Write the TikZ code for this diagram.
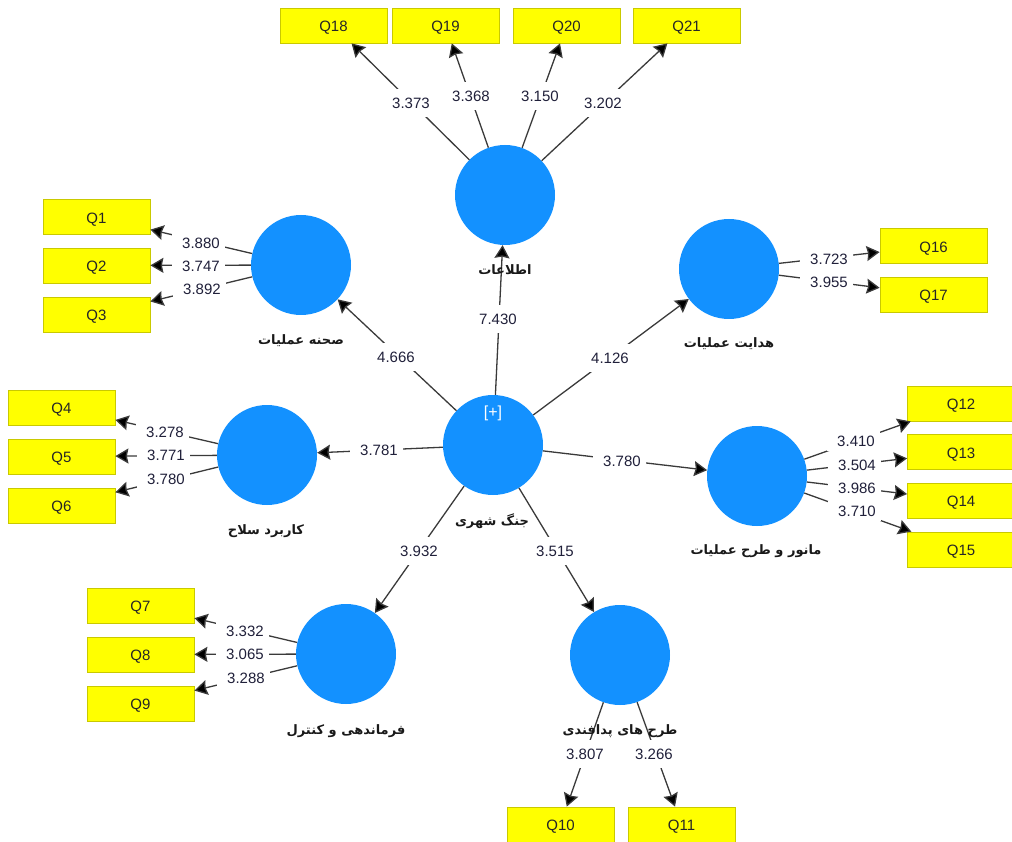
\documentclass[tikz,border=0pt]{standalone}
\usepackage{fontspec}
\setmainfont{Liberation Sans}
\newfontfamily\arabicfont[Script=Arabic]{DejaVu Sans}
\TeXXeTstate=1
\usetikzlibrary{arrows.meta}
\definecolor{lvblue}{HTML}{1391FF}
\definecolor{mvfill}{RGB}{255,255,0}
\definecolor{mvedge}{HTML}{C9C900}
\definecolor{lnk}{HTML}{3A3A3A}
\definecolor{valtxt}{HTML}{20203A}
\tikzset{
 lv/.style={circle,fill=lvblue,minimum size=100pt,inner sep=0pt},
 mv/.style={rectangle,fill=mvfill,draw=mvedge,line width=0.8pt,minimum width=107pt,minimum height=35pt,inner sep=0pt,text height=12.5pt,text depth=0pt,font=\fontsize{15}{15}\selectfont,text=black!85},
 lnkline/.style={draw=lnk,line width=1.3pt,-{Stealth[length=13pt,width=15pt,inset=1.5pt,fill=black]}},
 val/.style={fill=white,inner sep=0pt,minimum width=53pt,minimum height=20pt,xshift=-2.5pt,execute at begin node={\hspace*{5pt}},font=\fontsize{15}{15}\selectfont,text=valtxt},
 valtall/.style={val,minimum height=28pt},
 fa/.style={inner sep=0pt,font=\fontsize{13}{14}\arabicfont\bfseries,text=black!90},
}
\begin{document}
\begin{tikzpicture}[x=1pt,y=-1pt]
\useasboundingbox (0,0) rectangle (1012,842);
% latent variables
\node[lv] (main) at (493,445) {};
\node[lv] (info) at (505,195) {};
\node[lv] (scene) at (301,265) {};
\node[lv] (guide) at (729,269) {};
\node[lv] (weapon) at (267,455) {};
\node[lv] (maneuver) at (757,476) {};
\node[lv] (command) at (346,654) {};
\node[lv] (defense) at (620,655) {};
\node[text=white,inner sep=0pt,font=\fontsize{16}{16}\selectfont] (plus) at (493,413) {[+]};
% indicators
\node[mv] (Q1) at (96.5,217) {Q1};
\node[mv] (Q2) at (96.5,265.5) {Q2};
\node[mv] (Q3) at (96.5,314.5) {Q3};
\node[mv] (Q4) at (61.5,407.5) {Q4};
\node[mv] (Q5) at (61.5,456.5) {Q5};
\node[mv] (Q6) at (61.5,505.5) {Q6};
\node[mv] (Q7) at (140.5,605.5) {Q7};
\node[mv] (Q8) at (140.5,654.5) {Q8};
\node[mv] (Q9) at (140.5,703.5) {Q9};
\node[mv] (Q10) at (560.5,824.5) {Q10};
\node[mv] (Q11) at (681.5,824.5) {Q11};
\node[mv] (Q12) at (961,403.5) {Q12};
\node[mv] (Q13) at (961,452) {Q13};
\node[mv] (Q14) at (961,500.5) {Q14};
\node[mv] (Q15) at (961,549.5) {Q15};
\node[mv] (Q16) at (933.5,246) {Q16};
\node[mv] (Q17) at (933.5,294.5) {Q17};
\node[mv] (Q18) at (333.5,25.5) {Q18};
\node[mv] (Q19) at (445.5,25.5) {Q19};
\node[mv] (Q20) at (566.5,25.5) {Q20};
\node[mv] (Q21) at (686.5,25.5) {Q21};
% connectors
\foreach \a/\b in {main/info,main/scene,main/guide,main/weapon,main/maneuver,main/command,main/defense,
  scene/Q1,scene/Q2,scene/Q3,weapon/Q4,weapon/Q5,weapon/Q6,command/Q7,command/Q8,command/Q9,
  defense/Q10,defense/Q11,maneuver/Q12,maneuver/Q13,maneuver/Q14,maneuver/Q15,guide/Q16,guide/Q17,
  info/Q18,info/Q19,info/Q20,info/Q21}
  {\draw[lnkline] (\a) -- (\b);}
% values
\node[valtall] (v1) at (498,319) {7.430};
\node[valtall] (v2) at (396,357) {4.666};
\node[valtall] (v3) at (610,358) {4.126};
\node[val] (v4) at (379,450) {3.781};
\node[val] (v5) at (622,461) {3.780};
\node[valtall] (v6) at (419,551) {3.932};
\node[valtall] (v7) at (555,551) {3.515};
\node[valtall] (v8) at (411,103) {3.373};
\node[valtall] (v9) at (471,96) {3.368};
\node[valtall] (v10) at (540,96) {3.150};
\node[valtall] (v11) at (603,103) {3.202};
\node[val] (v12) at (201,243) {3.880};
\node[val] (v13) at (201,266) {3.747};
\node[val] (v14) at (202,289) {3.892};
\node[val] (v15) at (829,259) {3.723};
\node[val] (v16) at (829,282) {3.955};
\node[val] (v17) at (165,432) {3.278};
\node[val] (v18) at (166,455) {3.771};
\node[val] (v19) at (166,479) {3.780};
\node[val] (v20) at (856,441) {3.410};
\node[val] (v21) at (857,465) {3.504};
\node[val] (v22) at (857,488) {3.986};
\node[val] (v23) at (857,511) {3.710};
\node[val] (v24) at (245,631) {3.332};
\node[val] (v25) at (245,654) {3.065};
\node[val] (v26) at (246,678) {3.288};
\node[valtall] (v27) at (585,754) {3.807};
\node[valtall] (v28) at (654,754) {3.266};
% names
\node[fa] (t1) at (505,270) {\beginR اطلاعات\endR};
\node[fa] (t2) at (301,341) {\beginR صحنه عملیات\endR};
\node[fa] (t3) at (729,344) {\beginR هدایت عملیات\endR};
\node[fa] (t4) at (266,531) {\beginR کاربرد سلاح\endR};
\node[fa] (t5) at (492,521) {\beginR جنگ شهری\endR};
\node[fa] (t6) at (756,551) {\beginR مانور و طرح عملیات\endR};
\node[fa] (t7) at (346,731) {\beginR فرماندهی و کنترل\endR};
\node[fa] (t8) at (620,731) {\beginR طرح های پدافندی\endR};
\end{tikzpicture}
\end{document}
